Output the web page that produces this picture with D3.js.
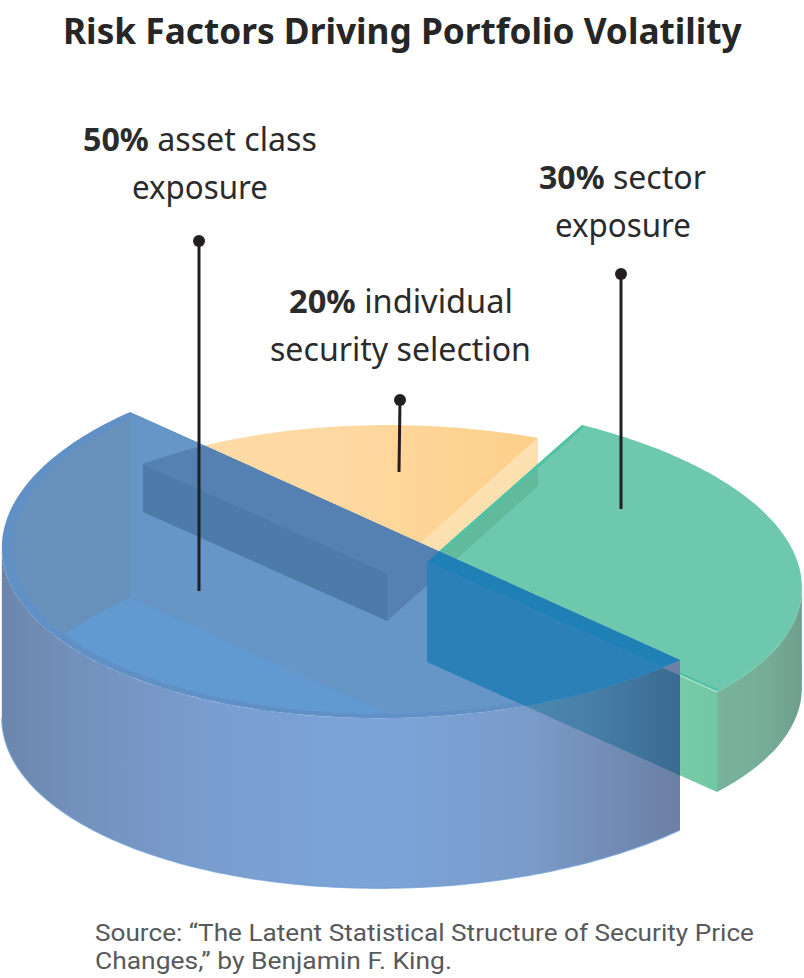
<!DOCTYPE html>
<html><head><meta charset="utf-8">
<script src="https://d3js.org/d3.v7.min.js"></script>
<style>html,body{margin:0;padding:0;background:#fff}svg{display:block}</style>
</head><body><svg id="c" width="804" height="978" viewBox="0 0 804 978"></svg>
<script>
// ---- data ----
const categories = ["sector exposure", "individual security selection", "asset class exposure"];
const values = [30, 20, 50];
const titleText = "Risk Factors Driving Portfolio Volatility";
const sourceLines = ["Source: “The Latent Statistical Structure of Security Price", "Changes,” by Benjamin F. King."];
const labelPct = ["30%", "20%", "50%"];
const labelRest = [" sector", " individual", " asset class"];
const labelSecond = ["exposure", "security selection", "exposure"];

// ---- layout ----
const FONT = "'Noto Sans'";
const SOURCE_FONT = "Roboto";
const svg = d3.select("#c");
const defs = svg.append("defs");
const slices = d3.pie().sort(null).startAngle(0).endAngle(2 * Math.PI)(values);
const [sGreen, sOrange, sBlue] = slices;

// Projective calibration: plane disc -> picture, from four reference points per slice.
// Each point is [fraction of the slice's sweep, or null for the disc centre; picture position].
function solve(A, b) {
  const n = b.length, M = A.map((r, i) => [...r, b[i]]);
  for (let i = 0; i < n; i++) {
    let p = i; for (let k = i + 1; k < n; k++) if (Math.abs(M[k][i]) > Math.abs(M[p][i])) p = k;
    [M[i], M[p]] = [M[p], M[i]];
    for (let k = 0; k < n; k++) if (k !== i) { const f = M[k][i] / M[i][i]; for (let j = i; j <= n; j++) M[k][j] -= f * M[i][j]; }
  }
  return M.map((r, i) => r[n] / r[i]);
}
function projection(slice, points) {
  const A = [], b = [];
  points.forEach(([f, [X, Y]]) => {
    const a = f === null ? 0 : slice.startAngle + (slice.endAngle - slice.startAngle) * f;
    const x = f === null ? 0 : Math.cos(a), y = f === null ? 0 : Math.sin(a);
    A.push([x, y, 1, 0, 0, 0, -x * X, -y * X]); b.push(X);
    A.push([0, 0, 0, x, y, 1, -x * Y, -y * Y]); b.push(Y);
  });
  const h = solve(A, b);
  return (t, r = 1) => {
    const x = r * Math.cos(t), y = r * Math.sin(t), w = h[6] * x + h[7] * y + 1;
    return [(h[0] * x + h[1] * y + h[2]) / w, (h[3] * x + h[4] * y + h[5]) / w];
  };
}
const pGreen = projection(sGreen, [[null, [427, 562]], [0, [717, 692]], [.5, [790, 545]], [1, [582, 425]]]);
const pOrange = projection(sOrange, [[null, [387, 573]], [0, [538, 438]], [.5, [330, 427]], [1, [143, 464]]]);
const pBlue = projection(sBlue, [[0, [130, 412]], [.25, [2, 543]], [.75, [398, 718]], [1, [680, 660]]]);
const hGreen = 100, hOrange = 48, hBlue = 170, hBlueBack = 186;

const line = d3.line();
const sweep = (p, a, b, r = 1, dy = 0, n = 140) => d3.range(n + 1).map(i => {
  const q = p(a + (b - a) * i / n, r); return [q[0], q[1] + dy];
});
const wedge = (p, s, r = 1, dy = 0) => {
  const c = p(0, 0);
  return line([[c[0], c[1] + dy], ...sweep(p, s.startAngle, s.endAngle, r, dy)]) + "Z";
};
const wall = (p, a, b, h) => line([...sweep(p, a, b), ...sweep(p, b, a, 1, h)]) + "Z";
const radialFace = (p, t, h) => {
  const c = p(0, 0), e = p(t);
  return line([c, e, [e[0], e[1] + h], [c[0], c[1] + h]]) + "Z";
};
const extreme = (p, s, sign) => {
  const ts = d3.range(400).map(i => s.startAngle + (s.endAngle - s.startAngle) * i / 399);
  return sign > 0 ? ts[d3.greatestIndex(ts, t => p(t)[0])] : ts[d3.leastIndex(ts, t => p(t)[0])];
};
function gradient(id, x1, x2, stops) {
  const g = defs.append("linearGradient").attr("id", id).attr("gradientUnits", "userSpaceOnUse")
    .attr("x1", x1).attr("x2", x2).attr("y1", 0).attr("y2", 0);
  stops.forEach(([o, c]) => g.append("stop").attr("offset", o).attr("stop-color", c));
}
const clip = (id, d) => defs.append("clipPath").attr("id", id).append("path").attr("d", d);
const draw = (d, fill, clipId, parent = svg) => {
  const e = parent.append("path").attr("d", d).attr("fill", fill);
  if (clipId) e.attr("clip-path", `url(#${clipId})`);
  return e;
};

gradient("gOrange", 140, 540, [[0, "#fedcab"], [.55, "#fed89f"], [1, "#fdcf88"]]);
gradient("gGreenWall", 717, 803, [[0, "#79b39b"], [.6, "#75ac96"], [1, "#6f9f8c"]]);
gradient("gGreenFace", 680, 717, [[0, "#77caa6"], [1, "#70c9a2"]]);
gradient("gBlueWall", 2, 680, [[0, "#6b86ab"], [.1, "#7290bb"], [.3, "#7a9dce"], [.55, "#7ba5da"], [.78, "#7a9bc9"], [1, "#6c7fa4"]]);
gradient("gGhostWall", 500, 680, [[0, "#4f8cb3"], [.5, "#467fa8"], [1, "#3a6a90"]]);

const tLeft = extreme(pBlue, sBlue, -1), tRight = extreme(pGreen, sGreen, 1);
const blueTop = wedge(pBlue, sBlue), blueInner = wedge(pBlue, sBlue, .975);
const blueWall = wall(pBlue, tLeft, sBlue.endAngle, hBlue);
clip("cTop", blueTop); clip("cInner", blueInner); clip("cWall", blueWall);
clip("cGreen", wedge(pGreen, sGreen));

const orangeFront = radialFace(pOrange, sOrange.endAngle, hOrange);
const orangeSide = radialFace(pOrange, sOrange.startAngle, hOrange);
const greenFront = radialFace(pGreen, sGreen.startAngle, hGreen);

// orange slice
draw(orangeSide, "#fde0b0");
draw(wedge(pOrange, sOrange), "url(#gOrange)");
// green slice
draw(greenFront, "url(#gGreenFace)");
draw(wall(pGreen, sGreen.startAngle, tRight, hGreen), "url(#gGreenWall)");
draw(wedge(pGreen, sGreen), "#6dc8ae");
draw(orangeSide, "#62ba9c", "cGreen");
svg.append("path").attr("d", line([pGreen(sGreen.endAngle), pGreen(0, 0), pGreen(sGreen.startAngle)]))
  .attr("fill", "none").attr("stroke", "#50c2a5").attr("stroke-width", 6).attr("clip-path", "url(#cGreen)");
svg.append("path").attr("d", line([pGreen(0, 0), pGreen(sGreen.startAngle)]))
  .attr("fill", "none").attr("stroke", "#cfe8d8").attr("stroke-width", 1);

// blue slice
draw(blueWall, "url(#gBlueWall)");
svg.append("path").attr("d", line(sweep(pBlue, tLeft, sBlue.endAngle, 1, hBlue)))
  .attr("fill", "none").attr("stroke", "#6b9ad2").attr("stroke-width", 1.5).attr("opacity", .7);
draw(blueTop, "#6090c6");
draw(blueInner, "#6695c8");
draw(wall(pBlue, sBlue.startAngle, tLeft, hBlueBack), "#6791bb", "cInner");
draw(wedge(pBlue, sBlue, 1, hBlueBack), "#6199d1", "cInner");

// slices seen through the blue slice
draw(wedge(pOrange, sOrange), "#5481b1", "cTop");
draw(orangeSide, "#5481b1", "cTop");
draw(orangeFront, "#4d7ba9", "cTop");
draw(wedge(pGreen, sGreen), "#1f80b6", "cTop");
draw(greenFront, "url(#gGhostWall)", "cWall");
draw(greenFront, "#2c80b8", "cTop");

// ---- leaders ----
const leaders = [
  [[621, 274], [621, 509]],
  [[400, 400], [399, 472]],
  [[199, 241], [199, 591]]
];
leaders.forEach(([a, b]) => {
  svg.append("path").attr("d", line([a, b])).attr("stroke", "#231f20").attr("stroke-width", 3).attr("fill", "none");
  svg.append("circle").attr("cx", a[0]).attr("cy", a[1]).attr("r", 6).attr("fill", "#231f20");
});

// ---- text ----
function fit(sel, left, width, baseline) {
  sel.attr("x", 0).attr("y", 0);
  const w = sel.node().getComputedTextLength();
  sel.attr("transform", `translate(${left},${baseline}) scale(${width / w},1)`);
}
const text = (size, weight, fill, family = FONT) => svg.append("text")
  .attr("font-family", family).attr("font-size", size).attr("font-weight", weight).attr("fill", fill);

fit(text(36, 700, "#262626").text(titleText), 63, 679, 44);

const labelBoxes = [
  [[539, 167, 189], [555, 136, 237]],
  [[289, 224, 313], [270, 261, 361]],
  [[83, 234, 151], [132, 136, 199]]
];
categories.forEach((c, i) => {
  const t = text(32, 400, "#2b2b2b");
  t.append("title").text(c);
  t.append("tspan").attr("font-weight", 700).text(labelPct[i]);
  t.append("tspan").text(labelRest[i]);
  const [[x, w, y], [x2, w2, y2]] = labelBoxes[i];
  fit(t, x, w, y);
  fit(text(32, 400, "#2b2b2b").text(labelSecond[i]), x2, w2, y2);
});

fit(text(23.5, 400, "#58595b", SOURCE_FONT).text(sourceLines[0]), 95, 659, 941);
fit(text(23.5, 400, "#58595b", SOURCE_FONT).text(sourceLines[1]), 95, 357, 969);
</script></body></html>
